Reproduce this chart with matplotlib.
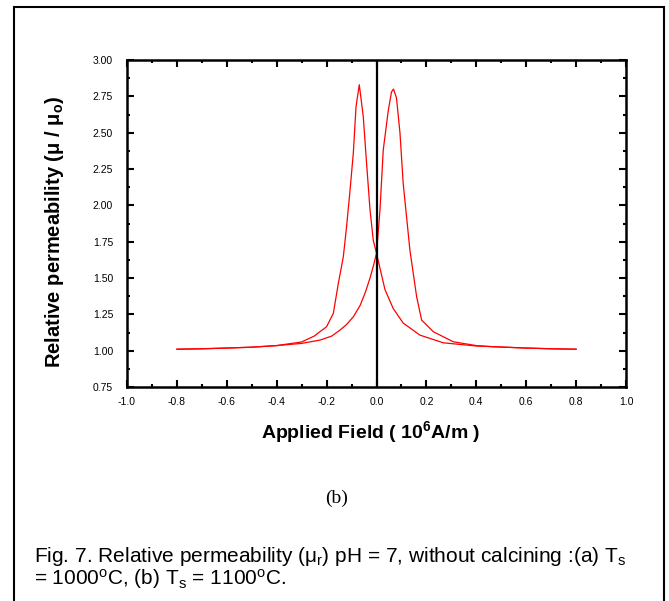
import numpy as np
import matplotlib
matplotlib.use("Agg")
import matplotlib.pyplot as plt
from matplotlib.patches import Rectangle
from matplotlib.ticker import MultipleLocator, FormatStrFormatter

# Data
# curve peaking on the negative side
field_neg = [-0.80, -0.70, -0.60, -0.50, -0.40, -0.30, -0.25, -0.20, -0.173,
             -0.153, -0.133, -0.120, -0.106, -0.093, -0.082, -0.069, -0.053,
             -0.039, -0.026, -0.013, 0.0, 0.034, 0.067, 0.107, 0.174, 0.268,
             0.40, 0.50, 0.60, 0.70, 0.80]
perm_neg = [1.010, 1.013, 1.018, 1.024, 1.035, 1.060, 1.100, 1.165, 1.257,
            1.463, 1.646, 1.853, 2.105, 2.358, 2.680, 2.830, 2.610,
            2.270, 1.970, 1.760, 1.670, 1.420, 1.290, 1.190, 1.107, 1.054,
            1.032, 1.025, 1.018, 1.013, 1.010]

# curve peaking on the positive side
field_pos = [-0.80, -0.70, -0.60, -0.50, -0.40, -0.30, -0.226, -0.18, -0.146,
             -0.12, -0.093, -0.066, -0.045, -0.026, -0.013, 0.0, 0.014, 0.027,
             0.047, 0.060, 0.068, 0.080, 0.094, 0.107, 0.134, 0.161, 0.181,
             0.228, 0.308, 0.40, 0.468, 0.60, 0.70, 0.80]
perm_pos = [1.010, 1.013, 1.018, 1.024, 1.035, 1.050, 1.073, 1.100, 1.142,
            1.180, 1.233, 1.310, 1.400, 1.500, 1.580, 1.670, 1.970, 2.380,
            2.650, 2.780, 2.800, 2.740, 2.500, 2.150, 1.690, 1.370, 1.210,
            1.130, 1.061, 1.035, 1.027, 1.018, 1.013, 1.010]

W, H = 669, 601
plt.rcParams['mathtext.fontset'] = 'custom'
plt.rcParams['mathtext.rm'] = 'Liberation Sans'
plt.rcParams['mathtext.it'] = 'Liberation Sans:italic'
plt.rcParams['mathtext.bf'] = 'Liberation Sans:bold'

fig = plt.figure(figsize=(W / 100, H / 100), dpi=100)

# outer frame of the figure panel
fig.add_artist(Rectangle((13.5 / W, -0.05), 650 / W, 1.05 - 7.5 / H,
                         transform=fig.transFigure, fill=False,
                         edgecolor='black', lw=1.5))

ax = fig.add_axes([127 / W, 1 - 387 / H, 499 / W, 327 / H])
ax.plot(field_neg, perm_neg, color='#ff0000', lw=0.9)
ax.plot(field_pos, perm_pos, color='#ff0000', lw=0.9)
ax.axvline(0, color='black', lw=1.6)

ax.set_xlim(-1.0, 1.0)
ax.set_ylim(0.75, 3.0)
ax.xaxis.set_major_locator(MultipleLocator(0.2))
ax.xaxis.set_minor_locator(MultipleLocator(0.1))
ax.yaxis.set_major_locator(MultipleLocator(0.25))
ax.yaxis.set_minor_locator(MultipleLocator(0.125))
ax.xaxis.set_major_formatter(FormatStrFormatter('%.1f'))
ax.yaxis.set_major_formatter(FormatStrFormatter('%.2f'))

ax.tick_params(which='both', direction='in', top=True, right=True,
               width=1.5, colors='black')
ax.tick_params(which='major', length=5)
ax.tick_params(which='minor', length=2.5)
ax.tick_params(axis='y', which='major', pad=10)
ax.tick_params(axis='x', which='major', pad=7)
tick_fam = ['Liberation Sans Narrow', 'Liberation Sans']
for lab in ax.get_xticklabels() + ax.get_yticklabels():
    lab.set_family(tick_fam)
    lab.set_fontsize(7.5)
for sp in ax.spines.values():
    sp.set_linewidth(1.8)

# axis titles
fig.text(55 / W, 1 - 232 / H, 'Relative permeability (μ / μ$_\\mathbf{o}$)',
         rotation=90, ha='center', va='center', fontsize=14.5,
         fontweight='bold', family='Liberation Sans')
fig.text(371 / W, 1 - 432 / H, 'Applied Field ( 10$^\\mathbf{6}$A/m )',
         ha='center', va='center', fontsize=14, fontweight='bold',
         family='Liberation Sans')

fig.text(337 / W, 1 - 498 / H, '(b)', ha='center', va='center',
         fontsize=14, family='Liberation Serif')

# caption, two lines in one text
caption = ('Fig. 7. Relative permeability (μ$_\\mathregular{r}$) pH = 7, '
           'without calcining :(a) T$_\\mathregular{s}$\n'
           '= 1000$^\\mathregular{o}$C, (b) T$_\\mathregular{s}$ = '
           '1100$^\\mathregular{o}$C.')
fig.text(34 / W, 1 - 545 / H, caption, ha='left', va='top',
         fontsize=15, linespacing=0.92, family='Liberation Sans')

fig.savefig('out.png', dpi=100)
